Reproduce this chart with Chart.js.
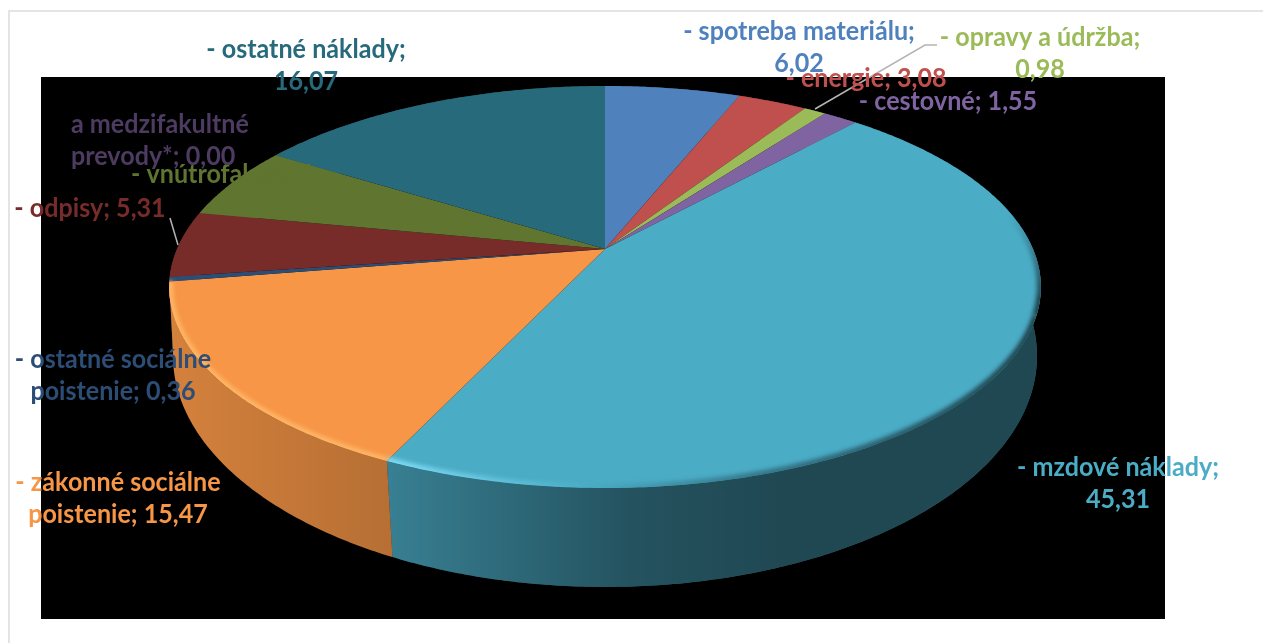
<!DOCTYPE html>
<html>
<head>
<meta charset="utf-8">
<title>Náklady</title>
<script src="https://cdn.jsdelivr.net/npm/chart.js@4"></script>
<style>
  html, body { margin: 0; background: #fff; overflow: hidden; }
  #frame { position: absolute; left: 8px; top: 10px; right: 0; bottom: 0; border-left: 2px solid #e4e4e4; border-top: 2px solid #e4e4e4; }
  #pie { position: absolute; left: 0; top: 0; }
</style>
</head>
<body>
<div id="frame"></div>
<canvas id="pie" width="1263" height="643"></canvas>
<script>
// Data (hodnoty odčítané z grafu, vnútrofakultné je odhad - popis je prekrytý)
const categories = ['- spotreba materiálu', '- energie', '- opravy a údržba', '- cestovné', '- mzdové náklady',
    '- zákonné sociálne|poistenie', '- ostatné sociálne|poistenie', '- odpisy', '- vnútrofakultné', 'a medzifakultné|prevody*', '- ostatné náklady'];
const values = [6.02, 3.08, 0.98, 1.55, 45.31, 15.47, 0.36, 5.31, 5.85, 0.00, 16.07];
const colors = ['#4f81bd', '#c0504d', '#9bbb59', '#8064a2', '#4bacc6', '#f79646', '#2c4d75', '#772c2a', '#5f7530', '#4d3b62', '#276a7c'];

// Poloha popisov: x, baseline prvého riadku, zalomenie pred hodnotou
const labelPlaces = [
    { x: 799, y: 40, breakValue: true },
    { x: 866, y: 87 },
    { x: 1040, y: 46, breakValue: true },
    { x: 948, y: 110 },
    { x: 1118, y: 476, breakValue: true },
    { x: 118, y: 491 },
    { x: 113, y: 368 },
    { x: 90, y: 217 },
    { x: 131, y: 183, left: true, text: '- vnútrofakultné ...' },
    { x: 71, y: 133, left: true },
    { x: 306, y: 58, breakValue: true }
];
const leaders = [
    [[170, 218], [178, 245]],
    [[937, 45], [925, 45], [815, 109]]
];

const LINE_H = 32;
const FONT = '700 27px Lato';
const TEXT_SQUEEZE = 0.93;

// Perspektíva: horná a dolná podstava koláča
const topFace = { cx: 605, cy: 249, a: 428, b: 193.8, p: 0.189 };
const bottomFace = { cx: 605, cy: 316.6, a: 425.7, b: 224.4, p: 0.17 };
const plotBox = { left: 41, top: 77, right: 1165, bottom: 619 };

function project(face, theta) {
    const u = Math.sin(theta), v = -Math.cos(theta);
    const w = 1 - face.p * v;
    return [face.cx + face.a * u / w, face.cy + face.b * v / w];
}

function rimPoints(face, from, to) {
    const pts = [];
    const n = Math.max(2, Math.ceil(Math.abs(to - from) / 0.01));
    for (let i = 0; i <= n; i++) pts.push(project(face, from + (to - from) * i / n));
    return pts;
}

function tracePoly(ctx, pts) {
    pts.forEach((p, i) => i ? ctx.lineTo(p[0], p[1]) : ctx.moveTo(p[0], p[1]));
}

const tiltedPie = {
    id: 'tiltedPie',
    beforeDraw(chart) {
        const ctx = chart.ctx;
        ctx.fillStyle = '#000';
        ctx.fillRect(plotBox.left, plotBox.top, plotBox.right - plotBox.left, plotBox.bottom - plotBox.top);
    },
    beforeDatasetsDraw(chart) {
        const ctx = chart.ctx;
        const arcs = chart.getDatasetMeta(0).data
            .map(arc => ({ from: arc.startAngle + Math.PI / 2, to: arc.endAngle + Math.PI / 2, color: arc.options.backgroundColor }));

        // Bočná stena, odzadu dopredu
        const shade = ctx.createLinearGradient(170, 0, 1040, 0);
        shade.addColorStop(0, 'rgba(0,0,0,0.14)');
        shade.addColorStop(0.25, 'rgba(0,0,0,0.26)');
        shade.addColorStop(0.53, 'rgba(0,0,0,0.52)');
        shade.addColorStop(0.7, 'rgba(0,0,0,0.58)');
        shade.addColorStop(1, 'rgba(0,0,0,0.58)');
        const depth = s => -Math.cos((s.from + s.to) / 2);
        arcs.filter(s => s.to > s.from).sort((a, b) => depth(a) - depth(b)).forEach(s => {
            const poly = rimPoints(topFace, s.from, s.to).concat(rimPoints(bottomFace, s.to, s.from));
            [s.color, shade].forEach(fill => {
                ctx.beginPath();
                tracePoly(ctx, poly);
                ctx.closePath();
                ctx.fillStyle = fill;
                ctx.fill();
            });
        });

        // Horná plocha
        arcs.filter(s => s.to > s.from).forEach(s => {
            ctx.beginPath();
            ctx.moveTo(topFace.cx, topFace.cy);
            rimPoints(topFace, s.from, s.to).forEach(p => ctx.lineTo(p[0], p[1]));
            ctx.closePath();
            ctx.fillStyle = s.color;
            ctx.fill();
        });

        // Svetlá hrana na prednom okraji, vpravo stmavnutá
        ctx.save();
        ctx.beginPath();
        tracePoly(ctx, rimPoints(topFace, 0, Math.PI * 2));
        ctx.closePath();
        ctx.clip();
        ctx.filter = 'blur(2px)';
        ctx.lineWidth = 8;
        const tealEdge = ctx.createLinearGradient(390, 0, 1040, 0);
        tealEdge.addColorStop(0, '#7fdcf5');
        tealEdge.addColorStop(0.3, '#4bacc6');
        tealEdge.addColorStop(0.55, '#35788a');
        tealEdge.addColorStop(1, '#1f424c');
        const sideEdge = ctx.createLinearGradient(0, 215, 0, 300);
        sideEdge.addColorStop(0, 'rgba(31,66,76,0)');
        sideEdge.addColorStop(1, 'rgba(31,66,76,1)');
        const mzdy = arcs[4], zakon = arcs[5];
        [[1.2, 1.9, sideEdge], [1.9, mzdy.to, tealEdge], [zakon.from, zakon.to, '#ffb566']].forEach(([a, b, stroke]) => {
            ctx.beginPath();
            tracePoly(ctx, rimPoints(topFace, a, b));
            ctx.strokeStyle = stroke;
            ctx.stroke();
        });
        ctx.restore();
        return false;
    },
    afterDraw(chart) {
        const ctx = chart.ctx;
        ctx.strokeStyle = '#b4b4b4';
        ctx.lineWidth = 1.5;
        leaders.forEach(line => {
            ctx.beginPath();
            tracePoly(ctx, line);
            ctx.stroke();
        });

        ctx.font = FONT;
        ctx.textBaseline = 'alphabetic';
        categories.forEach((cat, i) => {
            const place = labelPlaces[i];
            const val = values[i].toFixed(2).replace('.', ',');
            const text = place.text || (cat + ';' + (place.breakValue ? '|' : ' ') + val);
            ctx.fillStyle = colors[i];
            ctx.textAlign = place.left ? 'left' : 'center';
            text.split('|').forEach((line, n) => {
                ctx.save();
                ctx.translate(place.x, place.y + n * LINE_H);
                ctx.scale(TEXT_SQUEEZE, 1);
                ctx.fillText(line, 0, 0);
                ctx.restore();
            });
        });
    }
};

new Chart(document.getElementById('pie'), {
    type: 'pie',
    data: {
        labels: categories.map(c => c.replace('|', ' ')),
        datasets: [{ data: values, backgroundColor: colors, borderWidth: 0 }]
    },
    options: {
        responsive: false,
        animation: false,
        plugins: { legend: { display: false }, tooltip: { enabled: false } }
    },
    plugins: [tiltedPie]
});
</script>
</body>
</html>
